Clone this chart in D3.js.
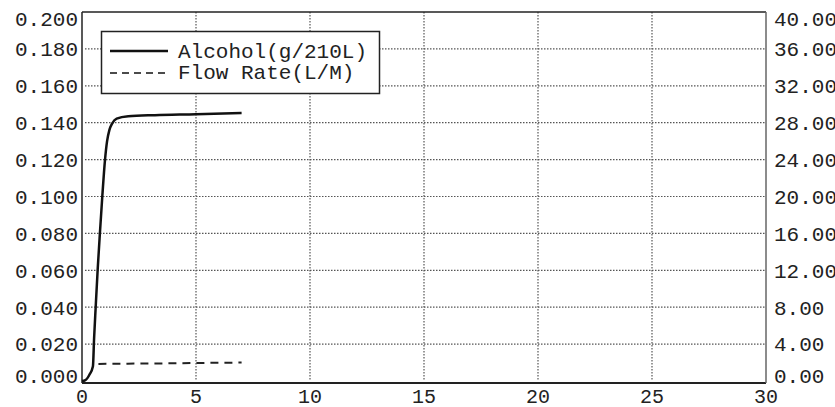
<!DOCTYPE html>
<html lang="en">
<head>
<meta charset="utf-8">
<title>Alcohol / Flow Rate</title>
<script src="https://d3js.org/d3.v7.min.js"></script>
<style>
  html, body { margin: 0; padding: 0; background: #fff; overflow: hidden; }
  text { font-family: "Liberation Mono", "Courier New", monospace; fill: #222; }
</style>
</head>
<body>
<script>
// x: time (s), left axis: alcohol g/210L, right axis: flow rate L/M
var xTicks = [0, 5, 10, 15, 20, 25, 30];
var leftTicks = [0, 0.02, 0.04, 0.06, 0.08, 0.10, 0.12, 0.14, 0.16, 0.18, 0.20];
var rightTicks = [0, 4, 8, 12, 16, 20, 24, 28, 32, 36, 40];

var alcoholT = [0, 0.15, 0.33, 0.48, 0.53, 0.60, 0.69, 0.79, 0.89, 1.01, 1.10, 1.20, 1.32, 1.52, 2.03, 3.2, 5.0, 7.0];
var alcoholV = [0, 0.0005, 0.0035, 0.008, 0.023, 0.040, 0.061, 0.081, 0.100, 0.120, 0.130, 0.136, 0.1395, 0.1422, 0.1435, 0.1441, 0.1446, 0.1453];

var flowT = [0.72, 2.0, 4.0, 5.0, 7.0];
var flowV = [1.85, 1.88, 1.92, 1.95, 2.0];

var legendNames = ["Alcohol(g/210L)", "Flow Rate(L/M)"];

var W = 835, H = 407;
var pLeft = 82, pRight = 766, pTop = 12, pBottom = 381;

var svg = d3.select("body").append("svg")
    .attr("width", W)
    .attr("height", H);

var x = d3.scaleLinear().domain([0, 30]).range([pLeft, pRight]);
var yL = d3.scaleLinear().domain([0, 0.2]).range([pBottom, pTop]);
var yR = d3.scaleLinear().domain([0, 40]).range([pBottom, pTop]);

// grid
var grid = svg.append("g");
grid.selectAll("line.h")
    .data(leftTicks.slice(1, -1))
    .enter().append("line")
    .attr("x1", pLeft + 3).attr("x2", pRight)
    .attr("y1", function(d){ return yL(d); })
    .attr("y2", function(d){ return yL(d); })
    .attr("stroke", "#555")
    .attr("stroke-width", 1.2)
    .attr("stroke-dasharray", "1.5,1.5");
grid.selectAll("line.v")
    .data(xTicks.slice(1, -1))
    .enter().append("line")
    .attr("y1", pTop).attr("y2", pBottom)
    .attr("x1", function(d){ return x(d); })
    .attr("x2", function(d){ return x(d); })
    .attr("stroke", "#555")
    .attr("stroke-width", 1.2)
    .attr("stroke-dasharray", "1.5,1.5");

// frame
svg.append("line").attr("x1", pLeft).attr("x2", pRight).attr("y1", pTop).attr("y2", pTop)
    .attr("stroke", "#222").attr("stroke-width", 1.5);
svg.append("line").attr("x1", pLeft).attr("x2", pLeft).attr("y1", pTop).attr("y2", pBottom + 2)
    .attr("stroke", "#222").attr("stroke-width", 1.5);
svg.append("line").attr("x1", pLeft).attr("x2", pRight).attr("y1", pBottom + 2).attr("y2", pBottom + 2)
    .attr("stroke", "#222").attr("stroke-width", 2);
svg.append("line").attr("x1", pRight).attr("x2", pRight).attr("y1", pTop).attr("y2", pBottom + 2)
    .attr("stroke", "#666").attr("stroke-width", 1.5);

var fs = 21;
function clampY(v) {
    return Math.max(pTop + 7, Math.min(pBottom - 5, v));
}

// left labels
svg.selectAll("text.yl")
    .data(leftTicks)
    .enter().append("text")
    .attr("x", pLeft - 4)
    .attr("y", function(d){ return clampY(yL(d)); })
    .attr("dy", "0.35em")
    .attr("text-anchor", "end")
    .style("font-size", fs + "px")
    .text(function(d){ return d3.format(".3f")(d); });

// right labels
svg.selectAll("text.yr")
    .data(rightTicks)
    .enter().append("text")
    .attr("x", pRight + 8)
    .attr("y", function(d){ return clampY(yR(d)); })
    .attr("dy", "0.35em")
    .attr("text-anchor", "start")
    .style("font-size", fs + "px")
    .text(function(d){ return d3.format(".2f")(d); });

// x labels
svg.selectAll("text.x")
    .data(xTicks)
    .enter().append("text")
    .attr("x", function(d){ return x(d); })
    .attr("y", 403)
    .attr("text-anchor", "middle")
    .style("font-size", "20px")
    .text(function(d){ return d; });

// series
var alcohol = alcoholT.map(function(t, i){ return [t, alcoholV[i]]; });
var flow = flowT.map(function(t, i){ return [t, flowV[i]]; });

svg.append("path")
    .datum(alcohol)
    .attr("fill", "none")
    .attr("stroke", "#111")
    .attr("stroke-width", 2.5)
    .attr("d", d3.line()
        .x(function(d){ return x(d[0]); })
        .y(function(d){ return yL(d[1]); })
        .curve(d3.curveMonotoneX));

svg.append("path")
    .datum(flow)
    .attr("fill", "none")
    .attr("stroke", "#222")
    .attr("stroke-width", 2)
    .attr("stroke-dasharray", "8,6")
    .attr("d", d3.line()
        .x(function(d){ return x(d[0]); })
        .y(function(d){ return yR(d[1]); }));

// legend
var lg = svg.append("g");
lg.append("rect")
    .attr("x", 101.5).attr("y", 31.5)
    .attr("width", 278).attr("height", 62)
    .attr("fill", "#fff")
    .attr("stroke", "#222")
    .attr("stroke-width", 1.5);

lg.selectAll("line.lg")
    .data(legendNames)
    .enter().append("line")
    .attr("x1", 110).attr("x2", 168)
    .attr("y1", function(d, i){ return 51 + i * 22; })
    .attr("y2", function(d, i){ return 51 + i * 22; })
    .attr("stroke", "#111")
    .attr("stroke-width", function(d, i){ return i === 0 ? 2.5 : 1.5; })
    .attr("stroke-dasharray", function(d, i){ return i === 0 ? null : "7,5"; });

lg.selectAll("text.lg")
    .data(legendNames)
    .enter().append("text")
    .attr("x", 178)
    .attr("y", function(d, i){ return 58 + i * 21; })
    .style("font-size", "21px")
    .text(function(d){ return d; });
</script>
</body>
</html>
